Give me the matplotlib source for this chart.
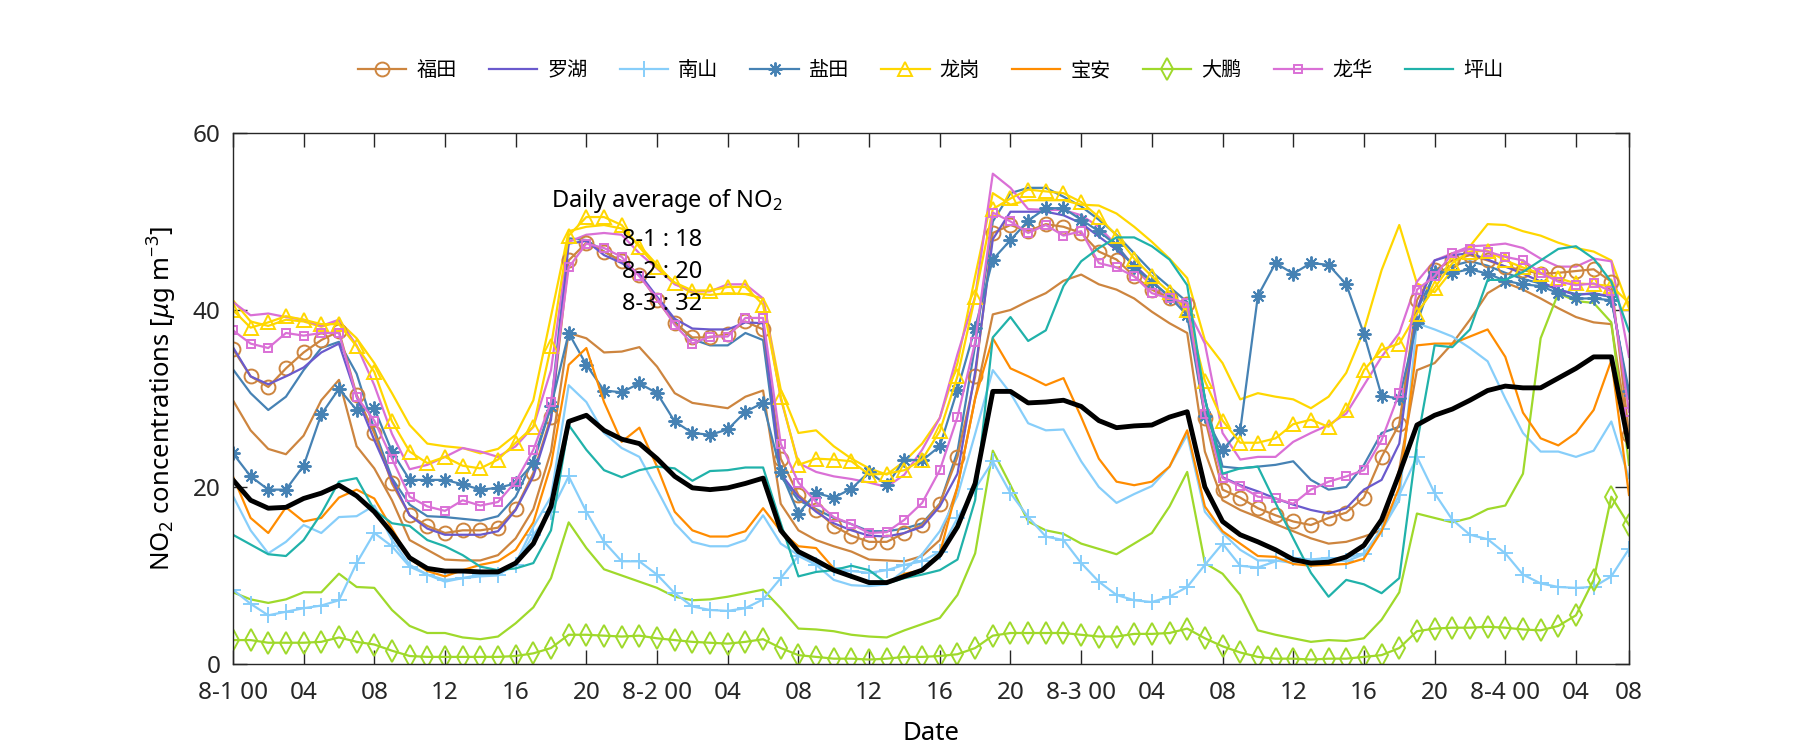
import numpy as np
import matplotlib.pyplot as plt

plt.rcParams['font.family'] = ['Noto Sans', 'Noto Sans CJK SC', 'DejaVu Sans']
plt.rcParams['mathtext.fontset'] = 'custom'
plt.rcParams['mathtext.rm'] = 'Noto Sans'
plt.rcParams['mathtext.it'] = 'Noto Sans:italic'

hours = np.arange(80)
tick_pos = list(range(0, 77, 4)) + [79]
tick_labels = ['8-1 00', '04', '08', '12', '16', '20',
               '8-2 00', '04', '08', '12', '16', '20',
               '8-3 00', '04', '08', '12', '16', '20',
               '8-4 00', '04', '08']

# hourly NO2 per district (marked / first set)
futian = [35.6, 32.5, 31.3, 33.4, 35.2, 36.6, 37.6, 30.4, 26.1, 20.4, 16.8, 15.6, 14.8, 15.1,
          15.1, 15.4, 17.5, 21.6, 27.9, 45.6, 47.6, 46.6, 45.5, 44.0, 41.1, 38.5, 36.9, 36.9,
          37.3, 38.7, 37.8, 23.2, 19.1, 17.4, 15.6, 14.5, 13.8, 13.8, 14.8, 15.7, 18.1, 23.4,
          32.5, 48.7, 49.6, 48.9, 49.7, 49.4, 48.7, 46.6, 45.7, 43.8, 42.3, 41.3, 40.7,
          27.8, 19.7, 18.8, 17.6, 16.8, 16.1, 15.7, 16.5, 17.1, 18.8, 23.4, 27.1, 41.1, 44.5,
          45.6, 46.2, 45.6, 44.9, 44.5, 44.1, 44.2, 44.4, 44.6, 43.2, 25.9]
luohu = [35.8, 32.5, 31.6, 32.5, 33.5, 35.2, 36.2, 30.2, 25.3, 20.8, 16.8, 15.3, 14.6, 14.6,
         14.6, 15.0, 17.4, 21.2, 27.6, 47.5, 47.8, 46.2, 45.3, 44.1, 41.5, 39.0, 37.9, 37.8,
         37.8, 38.6, 38.5, 21.5, 18.9, 17.2, 15.9, 15.1, 14.5, 14.4, 14.8, 15.5, 17.8, 21.5,
         33.0, 48.0, 51.1, 51.1, 51.1, 50.7, 49.8, 48.3, 46.8, 45.1, 43.2, 41.5, 40.4,
         30.0, 21.1, 20.2, 19.5, 18.7, 18.0, 17.4, 17.0, 17.6, 19.7, 20.8, 24.9, 40.0, 45.6,
         46.2, 46.4, 45.7, 44.9, 44.1, 43.2, 42.3, 41.7, 41.9, 41.5, 30.0]
nanshan = [8.4, 6.8, 5.5, 5.9, 6.3, 6.6, 7.2, 11.4, 14.8, 13.3, 11.0, 10.1, 9.5, 9.7,
           10.1, 10.1, 11.2, 14.6, 17.2, 21.2, 17.2, 13.8, 11.6, 11.6, 10.1, 8.0, 6.5, 6.1,
           6.0, 6.3, 7.3, 9.7, 12.2, 11.2, 10.8, 10.5, 10.3, 10.6, 11.2, 11.6, 12.7, 16.5,
           19.8, 22.9, 19.3, 16.6, 14.4, 14.0, 11.4, 9.3, 7.8, 7.2, 7.0, 7.6, 8.7,
           11.2, 13.6, 11.1, 10.9, 11.6, 12.0, 11.8, 12.0, 11.6, 12.4, 15.3, 19.1, 23.4, 19.3,
           16.3, 14.6, 14.1, 12.5, 10.1, 9.1, 8.7, 8.6, 8.7, 9.9, 13.0]
yantian = [23.8, 21.2, 19.7, 19.7, 22.4, 28.2, 31.1, 28.7, 28.9, 24.0, 20.8, 20.8, 20.8, 20.3,
           19.7, 19.9, 20.4, 22.7, 29.1, 37.4, 33.8, 30.9, 30.7, 31.7, 30.6, 27.4, 26.1, 25.9,
           26.5, 28.5, 29.5, 21.7, 17.0, 19.3, 18.8, 19.8, 21.7, 20.2, 23.1, 23.0, 24.6, 31.0,
           38.0, 45.7, 47.9, 50.1, 51.5, 51.5, 50.2, 48.9, 47.3, 44.8, 43.2, 41.5, 39.4,
           28.0, 24.2, 26.4, 41.6, 45.3, 44.1, 45.3, 45.1, 42.9, 37.3, 30.3, 30.0, 38.5, 44.3,
           44.2, 44.6, 44.1, 43.3, 42.9, 42.7, 41.9, 41.3, 41.3, 41.1, 30.8]
longgang = [40.0, 38.0, 38.6, 39.3, 38.9, 38.4, 38.4, 35.9, 33.0, 27.4, 24.0, 22.7, 23.4, 22.4,
            22.1, 23.1, 25.0, 26.8, 35.9, 48.4, 50.5, 50.5, 49.6, 47.1, 44.8, 43.1, 42.2, 42.2,
            42.6, 42.6, 40.6, 30.2, 22.5, 23.2, 23.1, 22.9, 21.4, 21.5, 21.9, 23.1, 26.3, 32.5,
            41.5, 51.4, 52.6, 53.6, 53.4, 53.2, 52.2, 50.5, 48.4, 45.8, 43.8, 42.0, 40.0,
            32.0, 27.5, 25.0, 25.0, 25.5, 27.1, 27.6, 26.8, 28.7, 33.2, 35.5, 36.2, 39.6, 42.5,
            45.3, 46.6, 46.7, 45.6, 44.8, 44.1, 43.6, 43.0, 42.9, 42.7, 40.8]
baoan = [21.2, 16.5, 14.8, 17.7, 16.1, 16.5, 18.8, 19.7, 18.7, 15.3, 11.9, 10.5, 9.9, 10.6,
         11.2, 11.6, 12.9, 16.0, 22.5, 33.8, 35.7, 29.6, 25.1, 26.7, 22.3, 17.2, 15.1, 14.4,
         14.4, 15.0, 17.6, 15.0, 13.3, 13.1, 10.8, 9.9, 9.2, 9.1, 10.2, 10.6, 12.5, 20.0,
         30.0, 36.8, 33.4, 32.5, 31.5, 32.3, 27.9, 23.2, 20.6, 20.2, 20.6, 22.3, 26.4,
         17.8, 15.0, 13.6, 12.2, 12.1, 11.3, 11.1, 11.2, 11.3, 11.9, 15.0, 20.0, 36.0, 36.2,
         36.2, 37.0, 37.8, 34.7, 28.4, 25.5, 24.7, 26.1, 28.7, 34.3, 19.1]
dapeng = [2.7, 2.7, 2.4, 2.4, 2.4, 2.5, 3.0, 2.5, 2.2, 1.5, 0.9, 0.8, 0.8, 0.8,
          0.8, 0.8, 0.9, 1.2, 1.8, 3.3, 3.3, 3.2, 3.1, 3.2, 2.9, 2.7, 2.5, 2.4,
          2.3, 2.5, 2.8, 1.8, 1.0, 0.8, 0.6, 0.6, 0.5, 0.6, 0.8, 0.8, 0.9, 1.1,
          1.8, 3.2, 3.5, 3.5, 3.5, 3.5, 3.3, 3.1, 3.1, 3.4, 3.4, 3.5, 4.0,
          2.9, 2.0, 1.3, 0.8, 0.6, 0.6, 0.5, 0.6, 0.6, 0.8, 1.0, 1.8, 3.7, 4.0,
          4.1, 4.1, 4.2, 4.1, 3.9, 3.8, 4.3, 5.5, 9.5, 18.9, 15.7]
longhua = [37.7, 36.2, 35.7, 37.4, 37.1, 37.4, 37.4, 30.2, 27.5, 23.2, 18.9, 17.8, 17.3, 18.5,
           17.9, 18.3, 20.6, 24.2, 29.6, 44.8, 47.5, 47.0, 46.0, 43.8, 41.3, 38.3, 36.2, 37.0,
           37.0, 39.1, 39.1, 24.9, 20.5, 18.3, 16.6, 15.8, 14.8, 14.9, 16.3, 18.2, 21.9, 27.9,
           36.4, 51.0, 50.0, 48.7, 49.6, 48.4, 48.9, 45.3, 44.8, 43.8, 41.9, 41.3, 40.8,
           28.3, 21.0, 20.1, 18.9, 18.7, 18.1, 19.7, 20.6, 21.2, 21.9, 25.3, 30.6, 42.3, 43.8,
           46.4, 46.9, 46.6, 46.0, 45.6, 44.2, 43.2, 42.8, 43.0, 42.1, 28.5]
pingshan = [14.6, 13.5, 12.4, 12.2, 14.0, 17.0, 20.6, 21.0, 17.4, 15.9, 15.6, 14.0, 13.3, 12.3,
            11.0, 10.6, 10.8, 11.4, 15.1, 27.0, 24.2, 21.9, 21.1, 21.9, 22.3, 22.1, 20.7, 21.8,
            21.9, 22.2, 22.2, 15.9, 9.9, 10.4, 10.6, 11.1, 10.6, 9.1, 9.7, 10.1, 10.6, 11.8,
            18.5, 36.9, 39.2, 36.5, 37.7, 42.7, 45.5, 47.0, 48.2, 48.2, 47.2, 45.7, 42.8,
            30.0, 21.5, 22.1, 22.3, 18.2, 14.2, 10.3, 7.6, 9.5, 9.0, 8.0, 9.7, 24.9, 36.0,
            35.8, 37.8, 43.4, 43.4, 44.3, 45.6, 46.9, 47.2, 45.8, 43.2, 37.6]

# second (unmarked) set for six districts
futian_b = [29.8, 26.4, 24.3, 23.7, 25.8, 29.8, 32.1, 24.6, 22.1, 18.5, 14.0, 12.9, 11.8, 11.7,
            11.7, 12.3, 14.2, 17.5, 24.0, 37.4, 36.8, 35.2, 35.3, 35.8, 33.6, 30.6, 29.5, 29.2,
            28.9, 30.2, 30.9, 18.1, 15.1, 14.0, 13.3, 12.7, 11.8, 11.7, 11.6, 12.2, 14.0, 20.0,
            30.0, 39.5, 40.0, 41.0, 41.9, 43.3, 44.0, 42.9, 42.3, 41.3, 39.8, 38.5, 37.4,
            24.0, 18.5, 17.4, 16.6, 15.8, 15.0, 14.2, 13.6, 13.8, 14.4, 15.1, 22.0, 33.2, 34.0,
            36.2, 38.9, 41.9, 43.1, 42.3, 41.3, 40.2, 39.2, 38.6, 38.4, 25.5]
nanshan_b = [19.0, 15.1, 12.5, 13.8, 15.7, 14.8, 16.6, 16.7, 17.9, 14.0, 11.2, 10.1, 9.3, 9.7,
             9.9, 10.0, 11.4, 15.5, 18.9, 31.5, 29.6, 26.1, 24.4, 23.4, 19.7, 15.9, 13.8, 13.3,
             13.3, 14.0, 16.8, 13.6, 12.3, 11.2, 9.5, 8.9, 8.8, 9.0, 10.6, 12.4, 15.0, 19.0,
             26.0, 33.2, 30.6, 27.2, 26.4, 26.5, 22.9, 20.0, 18.2, 19.2, 20.1, 22.3, 25.9,
             17.2, 14.8, 12.9, 11.7, 11.7, 11.4, 11.8, 11.8, 12.0, 12.5, 15.1, 18.5, 38.5, 37.8,
             37.0, 35.7, 34.2, 30.0, 26.1, 24.0, 24.0, 23.4, 24.1, 27.4, 21.0]
yantian_b = [33.3, 30.6, 28.7, 30.2, 33.2, 35.7, 36.4, 32.8, 26.5, 21.0, 18.0, 16.7, 16.6, 16.4,
             16.2, 16.7, 18.9, 23.1, 29.1, 48.1, 47.9, 46.6, 45.5, 44.0, 41.3, 38.7, 36.7, 36.0,
             36.0, 37.4, 36.6, 21.2, 18.5, 17.5, 16.5, 15.8, 15.0, 15.0, 15.3, 15.9, 18.1, 24.0,
             36.0, 50.0, 53.2, 53.8, 53.8, 52.8, 51.7, 50.2, 48.5, 46.4, 44.3, 42.6, 40.9,
             30.0, 22.3, 22.1, 22.3, 22.5, 22.9, 20.8, 19.7, 20.0, 22.5, 26.1, 26.8, 40.0, 44.0,
             45.0, 45.5, 45.0, 44.2, 43.5, 43.0, 42.3, 41.8, 41.8, 41.5, 30.0]
longgang_b = [41.1, 38.7, 38.2, 38.9, 38.7, 38.1, 38.7, 36.8, 34.0, 30.6, 27.0, 24.9, 24.6, 24.4,
              23.8, 24.3, 25.9, 29.8, 39.3, 48.9, 49.4, 49.6, 49.2, 47.3, 45.1, 43.0, 41.9, 41.7,
              41.9, 41.8, 41.3, 31.0, 26.1, 26.4, 24.6, 23.2, 22.1, 21.4, 22.9, 24.9, 27.8, 34.0,
              43.8, 53.2, 51.9, 52.4, 52.4, 52.4, 51.9, 51.8, 50.9, 49.4, 47.7, 45.8, 43.6,
              36.6, 34.0, 29.9, 30.6, 30.2, 29.9, 28.9, 30.2, 32.9, 37.7, 44.5, 49.6, 43.0, 42.0,
              44.5, 47.2, 49.7, 49.6, 48.9, 48.4, 47.6, 47.0, 46.6, 45.6, 40.2]
dapeng_b = [8.1, 7.3, 6.9, 7.3, 8.1, 8.1, 10.2, 8.7, 8.6, 6.1, 4.3, 3.5, 3.5, 3.0,
            2.8, 3.1, 4.6, 6.4, 9.7, 16.0, 13.1, 10.7, 10.0, 9.3, 8.6, 7.6, 7.2, 7.3,
            7.6, 8.0, 8.4, 6.3, 4.0, 3.9, 3.7, 3.3, 3.1, 3.0, 3.8, 4.5, 5.2, 7.8,
            12.5, 24.1, 20.2, 16.1, 15.1, 14.7, 13.6, 13.0, 12.4, 13.6, 14.8, 17.8, 21.7,
            11.4, 10.2, 7.8, 3.8, 3.3, 2.9, 2.5, 2.7, 2.6, 2.9, 5.0, 8.1, 17.0, 16.5,
            16.0, 16.5, 17.5, 17.9, 21.5, 36.8, 41.9, 41.0, 40.8, 38.6, 22.5]
longhua_b = [40.9, 39.4, 39.6, 39.2, 38.9, 38.2, 38.9, 36.0, 31.5, 26.0, 22.0, 22.5, 23.4, 24.4,
             24.0, 23.4, 24.6, 26.8, 33.2, 47.7, 48.5, 48.7, 48.5, 46.4, 44.7, 42.9, 42.1, 42.1,
             42.9, 42.9, 41.3, 30.0, 22.7, 21.7, 21.2, 20.9, 20.5, 20.0, 21.4, 24.2, 27.8, 35.0,
             41.5, 55.4, 53.8, 51.4, 51.3, 51.3, 50.7, 49.4, 47.3, 44.9, 42.6, 41.3, 40.2,
             36.2, 26.1, 23.1, 23.4, 23.4, 25.1, 26.1, 27.0, 28.3, 31.5, 34.7, 37.4, 43.2, 45.6,
             46.4, 47.2, 47.3, 47.5, 47.0, 45.8, 44.9, 44.9, 45.8, 45.5, 34.7]

# city mean
mean_all = [20.8, 18.5, 17.6, 17.7, 18.7, 19.3, 20.2, 19.0, 17.2, 14.8, 12.0, 10.8, 10.5, 10.5,
            10.4, 10.4, 11.4, 13.6, 17.8, 27.4, 28.1, 26.4, 25.4, 24.9, 23.2, 21.2, 19.9, 19.7,
            19.9, 20.4, 21.0, 15.1, 12.7, 11.7, 10.6, 9.9, 9.2, 9.2, 9.9, 10.6, 12.3, 15.5,
            20.4, 30.8, 30.8, 29.5, 29.6, 29.8, 29.1, 27.5, 26.7, 26.9, 27.0, 27.9, 28.5,
            20.0, 16.1, 14.6, 13.8, 12.9, 11.8, 11.4, 11.5, 12.1, 13.4, 16.3, 21.5, 27.0, 28.1,
            28.8, 29.8, 30.9, 31.4, 31.2, 31.2, 32.3, 33.4, 34.7, 34.7, 24.6]

c_futian = '#CD853F'
c_luohu = '#6A5ACD'
c_nanshan = '#87CEFA'
c_yantian = '#4682B4'
c_longgang = '#FFD700'
c_baoan = '#FF8C00'
c_dapeng = '#9FD92B'
c_longhua = '#DA70D6'
c_pingshan = '#20B2AA'

fig = plt.figure(figsize=(18, 7.5), dpi=100)
ax = fig.add_axes([0.1294, 0.1147, 0.7756, 0.708])

lw = 1.6
# unmarked companions
ax.plot(hours, futian_b, color=c_futian, lw=lw)
ax.plot(hours, nanshan_b, color=c_nanshan, lw=lw)
ax.plot(hours, yantian_b, color=c_yantian, lw=lw)
ax.plot(hours, longgang_b, color=c_longgang, lw=lw)
ax.plot(hours, dapeng_b, color=c_dapeng, lw=lw)
ax.plot(hours, longhua_b, color=c_longhua, lw=lw)

mk = dict(mfc='none', mew=1.4, lw=lw)
ax.plot(hours, futian, color=c_futian, marker='o', ms=10, label='福田', **mk)
ax.plot(hours, luohu, color=c_luohu, lw=lw, label='罗湖')
ax.plot(hours, nanshan, color=c_nanshan, marker='+', ms=11, label='南山', **mk)
ax.plot(hours, yantian, color=c_yantian, marker=(8, 2, 0), ms=10, label='盐田', **mk)
ax.plot(hours, longgang, color=c_longgang, marker='^', ms=10, label='龙岗', **mk)
ax.plot(hours, baoan, color=c_baoan, lw=lw, label='宝安')
ax.plot(hours, dapeng, color=c_dapeng, marker='d', ms=11, label='大鹏', **mk)
ax.plot(hours, longhua, color=c_longhua, marker='s', ms=6, label='龙华', **mk)
ax.plot(hours, pingshan, color=c_pingshan, lw=lw, label='坪山')

ax.plot(hours, mean_all, color='black', lw=3.5)

ax.set_xlim(0, 79)
ax.set_ylim(0, 60)
ax.set_xticks(tick_pos)
ax.set_xticklabels(tick_labels)
ax.set_yticks([0, 20, 40, 60])
ax.tick_params(direction='in', top=True, right=True, length=10, width=1,
               labelsize=17.5, colors='#262626')
ax.tick_params(axis='x', pad=12)
ax.tick_params(axis='y', pad=9)
for s in ax.spines.values():
    s.set_color('#262626')
    s.set_linewidth(1)

ax.set_xlabel('Date', fontsize=18.5, labelpad=12)
ax.set_ylabel(r'NO$_2$ concentrations [$\mu$g m$^{-3}$]', fontsize=18.5, labelpad=10)

ax.text(18.0, 52.3, 'Daily average of NO$_2$', fontsize=17, va='center', ha='left')
ax.text(22.0, 47.9, '8-1 : 18', fontsize=17, va='center', ha='left')
ax.text(22.0, 44.3, '8-2 : 20', fontsize=17, va='center', ha='left')
ax.text(22.0, 40.7, '8-3 : 32', fontsize=17, va='center', ha='left')

fig.legend(loc='center', bbox_to_anchor=(0.517, 0.905), ncol=9, frameon=False,
           fontsize=14.5, handlelength=2.4, handletextpad=0.5, columnspacing=1.6)

fig.savefig('out.png', dpi=100)
